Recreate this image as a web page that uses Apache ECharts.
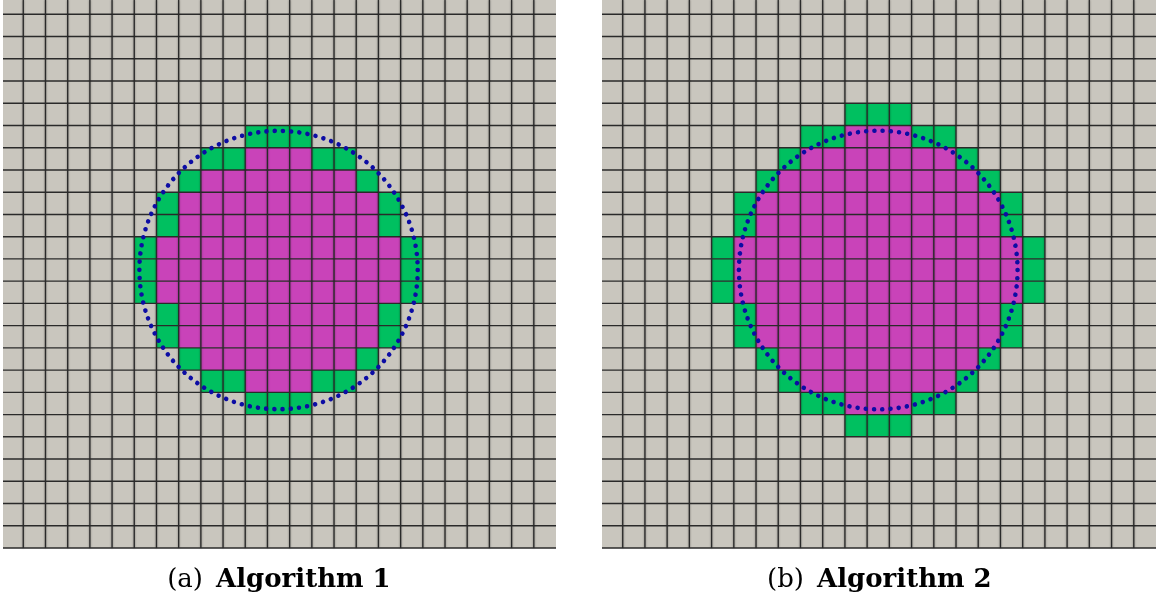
<!DOCTYPE html>
<html>
<head>
<meta charset="utf-8">
<script src="https://cdn.jsdelivr.net/npm/echarts@6/dist/echarts.min.js"></script>
<style>html,body{margin:0;padding:0;background:#fff}#c{width:1165px;height:602px}</style>
</head>
<body>
<div id="c"></div>
<script>
// ---- data: cell runs [row, firstCol, lastCol] on a 25x25 lattice ----
const alg1Magenta = [[7,11,13],[8,9,15],[9,8,16],[10,8,16],[11,7,17],[12,7,17],[13,7,17],[14,8,16],[15,8,16],[16,9,15],[17,11,13]];
const alg1Green = [[6,11,13],[7,9,10],[7,14,15],[8,8,8],[8,16,16],[9,7,7],[9,17,17],[10,7,7],[10,17,17],
  [11,6,6],[11,18,18],[12,6,6],[12,18,18],[13,6,6],[13,18,18],[14,7,7],[14,17,17],[15,7,7],[15,17,17],
  [16,8,8],[16,16,16],[17,9,10],[17,14,15],[18,11,13]];
const alg2Magenta = [[6,11,13],[7,9,15],[8,8,16],[9,7,17],[10,7,17],[11,6,18],[12,6,18],[13,6,18],[14,7,17],[15,7,17],[16,8,16],[17,9,15],[18,11,13]];
const alg2Green = [[5,11,13],[6,9,10],[6,14,15],[7,8,8],[7,16,16],[8,7,7],[8,17,17],[9,6,6],[9,18,18],[10,6,6],[10,18,18],
  [11,5,5],[11,19,19],[12,5,5],[12,19,19],[13,5,5],[13,19,19],[14,6,6],[14,18,18],[15,6,6],[15,18,18],
  [16,7,7],[16,17,17],[17,8,8],[17,16,16],[18,9,10],[18,14,15],[19,11,13]];
// circle: [centerX, centerY, radius] in lattice units
const circle1 = [[12.5, 12.5, 6.27]];
const circle2 = [[12.5, 12.5, 6.27]];
const latticeSize = 25;
const captions = [["(a)", "Algorithm 1"], ["(b)", "Algorithm 2"]];

// ---- styles ----
const GREY = '#c9c6be', GREEN = '#00c060', MAGENTA = '#c943b9', LINE = '#2a2a2a', DOT = '#0c0ca4';

const lineIdx = [];
for (let i = 1; i <= latticeSize; i++) lineIdx.push([i]);

function runSeries(data, color, idx) {
  return {
    type: 'custom', xAxisIndex: idx, yAxisIndex: idx, clip: true, z: 1,
    data: data.map(d => [d[1], d[0], d[2]]),
    renderItem: function (params, api) {
      const c0 = api.value(0), r = api.value(1), c1 = api.value(2);
      const p0 = api.coord([c0, r]);
      const p1 = api.coord([c1 + 1, r + 1]);
      return { type: 'rect', shape: { x: p0[0], y: p0[1], width: p1[0] - p0[0], height: p1[1] - p0[1] },
        style: { fill: color } };
    }
  };
}
function gridLineSeries(idx, xmin, ymin) {
  return {
    type: 'custom', xAxisIndex: idx, yAxisIndex: idx, clip: false, z: 3,
    data: lineIdx,
    renderItem: function (params, api) {
      const i = api.value(0);
      const children = [];
      const ha = api.coord([xmin, i]), hb = api.coord([latticeSize, i]);
      children.push({ type: 'line', shape: { x1: ha[0], y1: ha[1], x2: hb[0], y2: hb[1] },
        style: { stroke: LINE, lineWidth: 1.4 } });
      if (i < latticeSize) {
        const va = api.coord([i, ymin]), vb = api.coord([i, latticeSize]);
        children.push({ type: 'line', shape: { x1: va[0], y1: va[1], x2: vb[0], y2: vb[1] },
          style: { stroke: LINE, lineWidth: 1.3, shadowBlur: 2, shadowColor: 'rgba(0,0,0,0.5)' } });
      }
      return { type: 'group', children: children };
    }
  };
}
function circleSeries(data, idx) {
  return {
    type: 'custom', xAxisIndex: idx, yAxisIndex: idx, clip: false, z: 5,
    data: data,
    renderItem: function (params, api) {
      const c = api.coord([api.value(0), api.value(1)]);
      const r = api.size([api.value(2), 0])[0];
      const gap = 2 * Math.PI * r / 106;
      return { type: 'circle', shape: { cx: c[0], cy: c[1], r: r },
        style: { fill: 'none', stroke: DOT, lineWidth: 4.6, lineCap: 'round', lineDash: [0.001, gap - 0.001] } };
    }
  };
}

const X1MIN = 0.086, X2MIN = 0.068, YMIN = 0.356;
const chart = echarts.init(document.getElementById('c'), null, { renderer: 'canvas' });
chart.setOption({
  animation: false,
  backgroundColor: '#ffffff',
  grid: [
    { left: 3, top: 0, width: 553, height: 548, show: true, backgroundColor: GREY, borderWidth: 0 },
    { left: 602, top: 0, width: 554, height: 548, show: true, backgroundColor: GREY, borderWidth: 0 }
  ],
  xAxis: [
    { gridIndex: 0, type: 'value', min: X1MIN, max: latticeSize, show: false },
    { gridIndex: 1, type: 'value', min: X2MIN, max: latticeSize, show: false }
  ],
  yAxis: [
    { gridIndex: 0, type: 'value', min: YMIN, max: latticeSize, inverse: true, show: false },
    { gridIndex: 1, type: 'value', min: YMIN, max: latticeSize, inverse: true, show: false }
  ],
  series: [
    runSeries(alg1Green, GREEN, 0), runSeries(alg1Magenta, MAGENTA, 0),
    runSeries(alg2Green, GREEN, 1), runSeries(alg2Magenta, MAGENTA, 1),
    gridLineSeries(0, X1MIN, YMIN), gridLineSeries(1, X2MIN, YMIN),
    circleSeries(circle1, 0), circleSeries(circle2, 1)
  ],
  graphic: [
    { type: 'text', x: 203, y: 580, style: { text: captions[0][0], font: 'normal 26px "DejaVu Serif"', fill: '#000', textAlign: 'right', textVerticalAlign: 'middle' } },
    { type: 'text', x: 216, y: 580, style: { text: captions[0][1], font: 'bold 26px "DejaVu Serif"', fill: '#000', textAlign: 'left', textVerticalAlign: 'middle' } },
    { type: 'text', x: 804, y: 580, style: { text: captions[1][0], font: 'normal 26px "DejaVu Serif"', fill: '#000', textAlign: 'right', textVerticalAlign: 'middle' } },
    { type: 'text', x: 817, y: 580, style: { text: captions[1][1], font: 'bold 26px "DejaVu Serif"', fill: '#000', textAlign: 'left', textVerticalAlign: 'middle' } }
  ]
});
</script>
</body>
</html>
